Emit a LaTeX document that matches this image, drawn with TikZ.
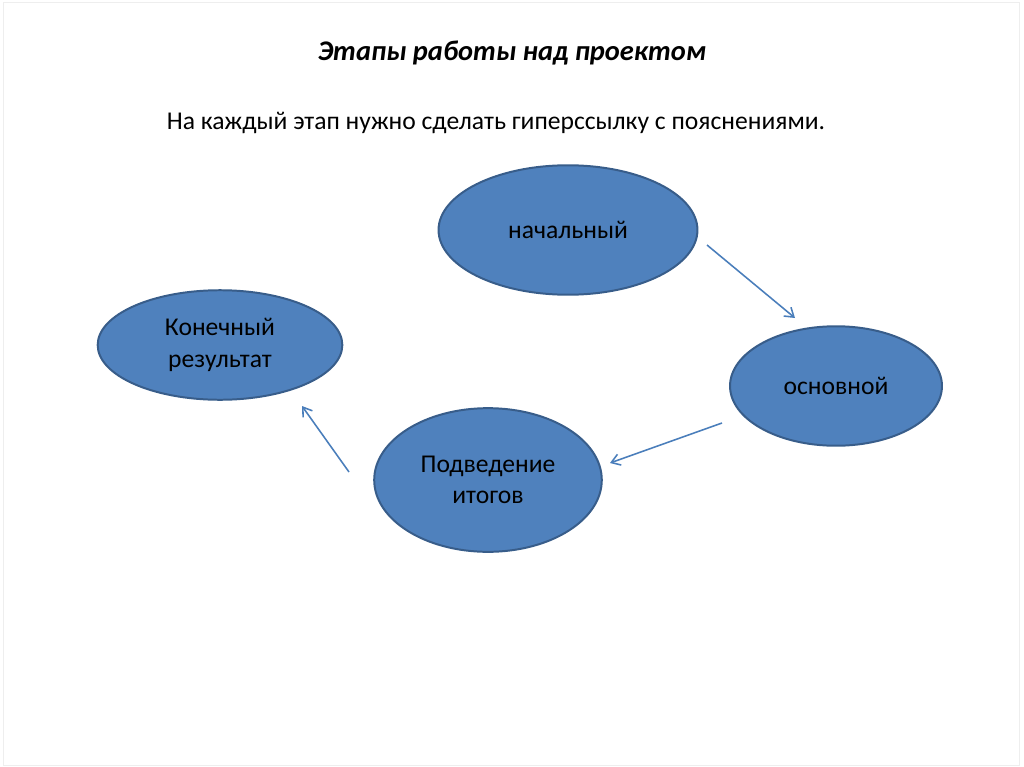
\documentclass[tikz,border=0pt]{standalone}
\usepackage{fontspec}
\setmainfont{Carlito}
\usepackage{tikz}
\usetikzlibrary{shapes.geometric, arrows.meta, positioning}
\definecolor{stageblue}{RGB}{79, 129, 189}
\definecolor{stageedge}{RGB}{56, 93, 138}
\definecolor{arrowblue}{RGB}{74, 126, 187}
\definecolor{framegray}{RGB}{238, 238, 238}

\begin{document}
\begin{tikzpicture}[x=0.703pt, y=-0.703pt, >={Straight Barb[length=6pt, width=8pt]},
    stage/.style={ellipse, draw=stageedge, line width=1.4pt, fill=stageblue, inner sep=0pt,
        align=center, font=\fontsize{18}{22}\selectfont, text=black},
    link/.style={->, arrowblue, line width=1.1pt}]
    \useasboundingbox (0,0) rectangle (1024,767);
    \draw[framegray, line width=0.6pt] (3,2) rectangle (1019,765);

    \node[font=\fontsize{20}{24}\selectfont\bfseries\itshape] (title) at (512,53) {Этапы работы над проектом};
    \node[font=\fontsize{18}{22}\selectfont] (note) at (496,123) {На каждый этап нужно сделать гиперссылку с пояснениями.};

    \node[stage, minimum width=182pt, minimum height=91pt] (nach) at (568,230) {начальный};
    \node[stage, minimum width=149pt, minimum height=84pt] (osn) at (836,386) {основной};
    \node[stage, minimum width=160pt, minimum height=101pt] (itog) at (488,480) {Подведение\\итогов};
    \node[stage, minimum width=172pt, minimum height=77pt] (kon) at (220,345) {Конечный\\результат};

    % концы стрелок
    \coordinate (a1s) at (707,245); \coordinate (a1e) at (795,318);
    \coordinate (a2s) at (722,423); \coordinate (a2e) at (610,463);
    \coordinate (a3s) at (349,472); \coordinate (a3e) at (302,406);
    \draw[link] (a1s) -- (a1e);
    \draw[link] (a2s) -- (a2e);
    \draw[link] (a3s) -- (a3e);
\end{tikzpicture}
\end{document}
